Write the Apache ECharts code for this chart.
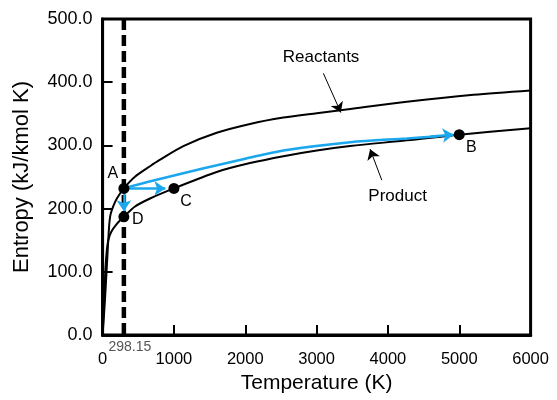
<!DOCTYPE html>
<html><head><meta charset="utf-8">
<script src="https://cdn.jsdelivr.net/npm/echarts@6/dist/echarts.min.js"></script>
<style>html,body{margin:0;padding:0;background:#fff}#c{width:557px;height:400px}</style>
</head><body><div id="c"></div>
<script>
// ---- data ----
const refT = 298.15;
const reactT = [0,30,60,90,110,150,200,298.15,450,665,800,1132,1600,2067,2535,3003,3500,4265,5200,6000];
const reactS = [0,50,110,170,190,204,216,232,250,267,277,299,320,334,344,351,358,369,380,387];
const prodT  = [0,20,40,60,80,120,200,298.15,450,665,1000,1600,2067,2535,3003,3470,4265,5000,6000];
const prodS  = [0,55,105,135,150,163,176,187,203,216,232,258,272,283,292,299,308,317,327];
const blueT  = [298.15,700,1390,2000,2535,3470,4265,4700];
const blueS  = [232,244,263,279,292,305,311,314.5];
const blueHeadT = [4600,4920];
const blueHeadS = [314,317];
const acT = [298.15,880];
const acS = [232,232];
const adT = [298.15,298.15];
const adS = [232,196];
const pointNames = ['A','B','C','D'];
const pointT = [298.15,5000,1000,298.15];
const pointS = [232,317,232,187];
const noteNames = ['Reactants','Product'];
const noteT = [3063,4136];
const noteS = [439,220];
const noteArrowFromT = [3095,3914];
const noteArrowFromS = [414,245];
const noteArrowToT = [3340,3750];
const noteArrowToS = [352,294];
const xTicks = [0,1000,2000,3000,4000,5000,6000];
const yTicks = [0,100,200,300,400,500];

// ---- chart ----
const F = '"Liberation Sans", Arial, sans-serif';
const BLUE = '#1AA7EE';
const pair = (a,b)=>a.map((v,i)=>[v,b[i]]);
const labelOffsets = {A:[-11,-15], B:[12,13], C:[12,13], D:[14,3]};
const chart = echarts.init(document.getElementById('c'));
chart.setOption({
  animation:false,
  grid:{left:102.6,right:26.4,top:19,bottom:65,show:true,borderColor:'#000',borderWidth:3},
  xAxis:{type:'value',min:xTicks[0],max:xTicks[xTicks.length-1],interval:xTicks[1]-xTicks[0],
    name:'Temperature (K)',nameLocation:'middle',nameGap:35,
    nameTextStyle:{fontFamily:F,fontSize:21,color:'#000'},
    axisLine:{lineStyle:{color:'#000',width:3}},
    axisTick:{inside:true,length:10,lineStyle:{width:2,color:'#000'}},
    axisLabel:{fontFamily:F,fontSize:16.5,color:'#000',margin:16,formatter:v=>String(v)},
    splitLine:{show:false}},
  yAxis:{type:'value',min:yTicks[0],max:yTicks[yTicks.length-1],interval:yTicks[1]-yTicks[0],
    name:'Entropy (kJ/kmol K)',nameLocation:'middle',nameGap:70,
    nameTextStyle:{fontFamily:F,fontSize:22,color:'#000'},
    axisLine:{lineStyle:{color:'#000',width:3}},
    axisTick:{inside:true,length:10,lineStyle:{width:2,color:'#000'}},
    axisLabel:{fontFamily:F,fontSize:18,color:'#000',margin:10,formatter:v=>v.toFixed(1)},
    splitLine:{show:false}},
  series:[
    {type:'line',data:pair([refT,refT],[500,0]),symbol:'none',silent:true,
     lineStyle:{color:'#000',width:4.5,type:[11,5]},z:2},
    {type:'line',name:'Reactants',data:pair(reactT,reactS),symbol:'none',smooth:0.3,
     lineStyle:{color:'#000',width:2},z:3},
    {type:'line',name:'Product',data:pair(prodT,prodS),symbol:'none',smooth:0.3,
     lineStyle:{color:'#000',width:2},z:3},
    {type:'line',data:pair(blueT,blueS),symbol:'none',smooth:0.3,
     lineStyle:{color:BLUE,width:2.5},z:4},
    {type:'lines',coordinateSystem:'cartesian2d',symbol:['none','arrow'],symbolSize:11,z:4,
     lineStyle:{color:BLUE,width:2.5,opacity:1,curveness:0},
     data:[{coords:pair(acT,acS)},{coords:pair(adT,adS)},{coords:pair(blueHeadT,blueHeadS)}]},
    {type:'lines',coordinateSystem:'cartesian2d',symbol:['none','arrow'],symbolSize:10,z:4,
     lineStyle:{color:'#000',width:1,opacity:1,curveness:0},
     data:noteNames.map((n,i)=>({coords:[[noteArrowFromT[i],noteArrowFromS[i]],[noteArrowToT[i],noteArrowToS[i]]]}))},
    {type:'scatter',symbol:'circle',symbolSize:11,itemStyle:{color:'#000',opacity:1},z:6,clip:false,
     data:pointNames.map((n,i)=>({name:n,value:[pointT[i],pointS[i]],
       label:{show:true,position:'inside',offset:labelOffsets[n],formatter:'{b}',
              fontFamily:F,fontSize:16,color:'#000'}}))},
    {type:'scatter',symbolSize:0,itemStyle:{opacity:1},z:6,clip:false,
     data:noteNames.map((n,i)=>({name:n,value:[noteT[i],noteS[i]],
       label:{show:true,position:'inside',formatter:'{b}',fontFamily:F,fontSize:17,color:'#000'}}))},
    {type:'scatter',symbolSize:0,itemStyle:{opacity:1},z:6,clip:false,
     data:[{name:String(refT),value:[refT,0],
       label:{show:true,position:'inside',offset:[6,12],formatter:'{b}',fontFamily:F,fontSize:14,color:'#555'}}]}
  ]
});
</script></body></html>
